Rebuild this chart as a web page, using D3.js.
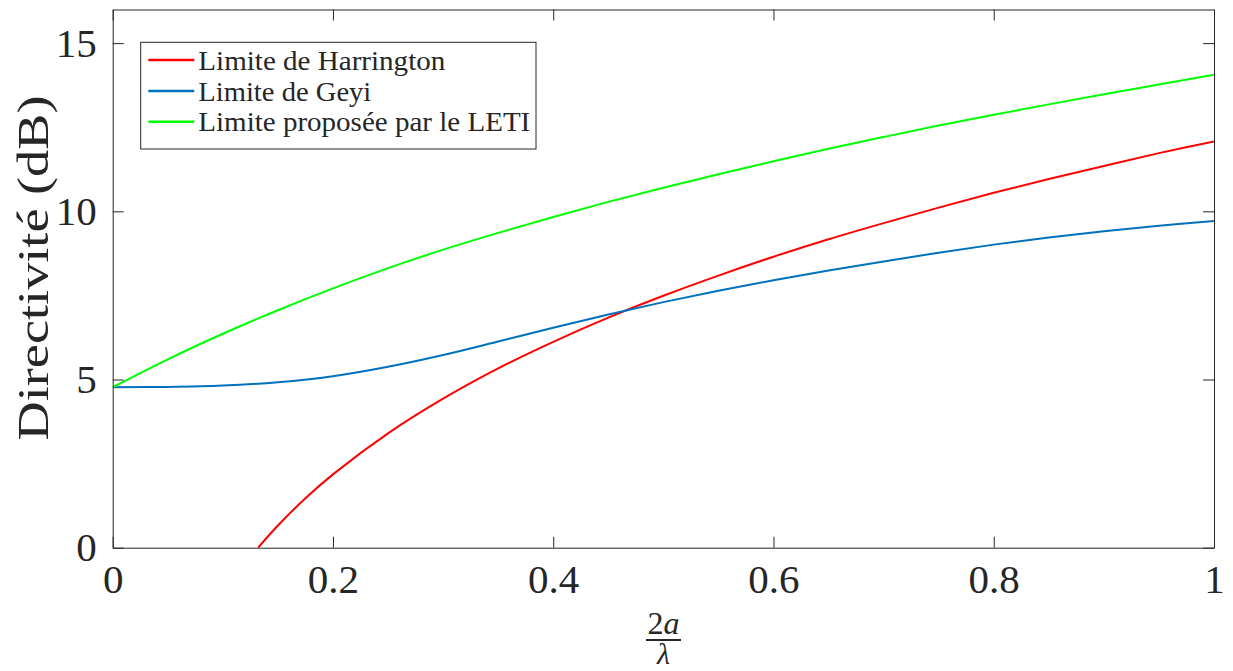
<!DOCTYPE html>
<html>
<head>
<meta charset="utf-8">
<script src="https://cdn.jsdelivr.net/npm/d3@7"></script>
<style>
  html, body { margin: 0; padding: 0; background: #fff; }
  svg { display: block; }
  text { font-family: "Liberation Serif", "DejaVu Serif", serif; fill: #262626; }
</style>
</head>
<body>
<svg id="chart" width="1233" height="671"></svg>
<script>
// ---- Data ----
const xTicks = [0, 0.2, 0.4, 0.6, 0.8, 1];
const xTickLabels = ["0", "0.2", "0.4", "0.6", "0.8", "1"];
const yTicks = [0, 5, 10, 15];
const yTickLabels = ["0", "5", "10", "15"];

const harringtonX = [0.132, 0.15, 0.175, 0.2, 0.25, 0.3, 0.35, 0.4, 0.45, 0.5, 0.55, 0.6, 0.65, 0.7, 0.75, 0.8, 0.85, 0.9, 0.95, 1];
const harringtonY = [0.0, 0.66, 1.47, 2.18, 3.40, 4.43, 5.33, 6.12, 6.84, 7.49, 8.09, 8.65, 9.17, 9.65, 10.11, 10.55, 10.96, 11.35, 11.73, 12.08];

const geyiX = [0, 0.05, 0.1, 0.15, 0.2, 0.25, 0.3, 0.35, 0.4, 0.45, 0.5, 0.55, 0.6, 0.65, 0.7, 0.75, 0.8, 0.85, 0.9, 0.95, 1];
const geyiY = [4.77, 4.78, 4.82, 4.92, 5.10, 5.38, 5.73, 6.13, 6.54, 6.93, 7.30, 7.64, 7.95, 8.24, 8.51, 8.77, 9.01, 9.22, 9.41, 9.57, 9.71];

const letiX = [0, 0.05, 0.1, 0.15, 0.2, 0.25, 0.3, 0.35, 0.4, 0.45, 0.5, 0.55, 0.6, 0.65, 0.7, 0.75, 0.8, 0.85, 0.9, 0.95, 1];
const letiY = [4.77, 5.60, 6.36, 7.06, 7.71, 8.31, 8.86, 9.36, 9.83, 10.28, 10.70, 11.10, 11.49, 11.86, 12.21, 12.55, 12.87, 13.18, 13.48, 13.77, 14.06];

const seriesNames = ["Limite de Harrington", "Limite de Geyi", "Limite proposée par le LETI"];
const seriesColors = ["#ff0000", "#0072bd", "#00ff00"];

// ---- Layout ----
const svg = d3.select("#chart");
const L = 112.7, R = 1214, T = 9.5, B = 547.7;
const x = d3.scaleLinear().domain([0, 1]).range([L, R]);
const y = d3.scaleLinear().domain([0, 16]).range([B, T]);
const axisColor = "#262626";
const tickLen = 11;

const series = [
  { name: seriesNames[0], color: seriesColors[0], pts: harringtonX.map((v, i) => [v, harringtonY[i]]) },
  { name: seriesNames[1], color: seriesColors[1], pts: geyiX.map((v, i) => [v, geyiY[i]]) },
  { name: seriesNames[2], color: seriesColors[2], pts: letiX.map((v, i) => [v, letiY[i]]) }
];

svg.append("defs").append("clipPath").attr("id", "plotclip")
  .append("rect").attr("x", L).attr("y", T).attr("width", R - L).attr("height", B - T);

const line = d3.line().x(d => x(d[0])).y(d => y(d[1])).curve(d3.curveCatmullRom.alpha(0.5));
svg.append("g").attr("clip-path", "url(#plotclip)")
  .selectAll("path").data(series).join("path")
  .attr("d", d => line(d.pts))
  .attr("fill", "none")
  .attr("stroke", d => d.color)
  .attr("stroke-width", 2);

// ---- Axes (box with inward ticks) ----
const axB = d3.axisBottom(x).tickValues(xTicks).tickFormat((d, i) => xTickLabels[i]).tickSizeInner(-tickLen).tickSizeOuter(0).tickPadding(16);
const axT = d3.axisTop(x).tickValues(xTicks).tickFormat("").tickSizeInner(-tickLen).tickSizeOuter(0);
const axLft = d3.axisLeft(y).tickValues(yTicks).tickFormat((d, i) => yTickLabels[i]).tickSizeInner(-tickLen).tickSizeOuter(0).tickPadding(16);
const axRgt = d3.axisRight(y).tickValues(yTicks).tickFormat("").tickSizeInner(-tickLen).tickSizeOuter(0);

function style(g) {
  g.select(".domain").attr("stroke", axisColor).attr("stroke-width", 1);
  g.selectAll(".tick line").attr("stroke", axisColor).attr("stroke-width", 1);
  g.selectAll(".tick text").attr("fill", axisColor).style("font-size", "41px")
    .style("font-family", '"Liberation Serif", "DejaVu Serif", serif');
}
svg.append("g").attr("transform", `translate(0,${B})`).call(axB).call(style);
svg.append("g").attr("transform", `translate(0,${T})`).call(axT).call(style);
svg.append("g").attr("transform", `translate(${L},0)`).call(axLft).call(style);
svg.append("g").attr("transform", `translate(${R},0)`).call(axRgt).call(style);

// ---- Axis labels ----
svg.append("text")
  .attr("transform", `translate(48,268) rotate(-90)`)
  .attr("text-anchor", "middle")
  .attr("textLength", 345)
  .attr("lengthAdjust", "spacingAndGlyphs")
  .style("font-size", "45px")
  .text("Directivité (dB)");

const fx = 663.5;
svg.append("text").attr("x", fx).attr("y", 634).attr("text-anchor", "middle")
  .style("font-size", "32px")
  .html('2<tspan font-style="italic">a</tspan>');
svg.append("line").attr("x1", 646).attr("x2", 681).attr("y1", 640).attr("y2", 640)
  .attr("stroke", axisColor).attr("stroke-width", 2);
svg.append("text").attr("x", fx).attr("y", 664).attr("text-anchor", "middle")
  .style("font-size", "30px").style("font-style", "italic")
  .text("λ");

// ---- Legend ----
const legendWidths = [247, 173, 332];
const lg = svg.append("g");
lg.append("rect").attr("x", 140.7).attr("y", 42.3).attr("width", 536 - 140.7).attr("height", 149 - 42.3)
  .attr("fill", "#fff").attr("stroke", axisColor).attr("stroke-width", 1);
const rowY = [60, 91, 121.7];
const rows = lg.selectAll("g.row").data(series).join("g").attr("class", "row")
  .attr("transform", (d, i) => `translate(0,${rowY[i]})`);
rows.append("line").attr("x1", 148.3).attr("x2", 194.3).attr("y1", 0).attr("y2", 0)
  .attr("stroke", d => d.color).attr("stroke-width", 2.5);
rows.append("text").attr("x", 198.3).attr("y", 0).attr("dy", "0.36em")
  .attr("textLength", (d, i) => legendWidths[i])
  .attr("lengthAdjust", "spacingAndGlyphs")
  .style("font-size", "27px").text(d => d.name);
</script>
</body>
</html>
